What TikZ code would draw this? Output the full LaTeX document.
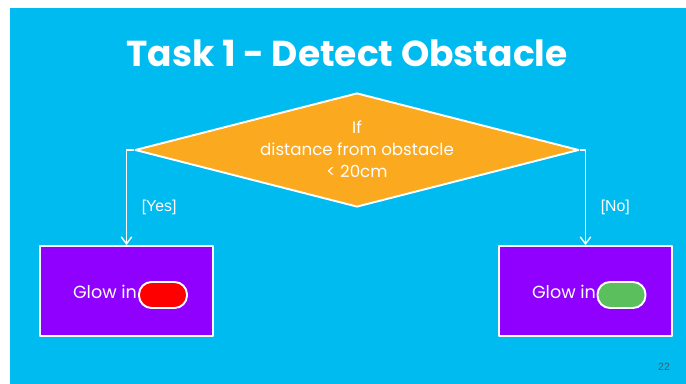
\documentclass[tikz,border=0pt]{standalone}
\usepackage{fontspec}
\setmainfont{Poppins}
\newfontfamily\tagfont{Liberation Sans}
\usetikzlibrary{shapes.geometric,arrows.meta,positioning}
\definecolor{slideblue}{HTML}{00BBF0}
\definecolor{condorange}{HTML}{FBA91E}
\definecolor{boxpurple}{HTML}{8F00FF}
\definecolor{lampred}{HTML}{FF0000}
\definecolor{lampgreen}{HTML}{5CBF5E}
\definecolor{pagegray}{HTML}{555555}

\begin{document}
\begin{tikzpicture}[x=0.02cm,y=-0.02cm,line join=round,
	decision/.style={diamond,draw=white,line width=1.1pt,fill=condorange,
		minimum width=8.88cm,minimum height=2.28cm,inner sep=0pt},
	action/.style={rectangle,draw=white,line width=1.1pt,fill=boxpurple,
		minimum width=3.46cm,minimum height=1.8cm},
	lamp/.style={rectangle,rounded corners=0.25cm,draw=white,line width=1.1pt,
		minimum width=0.96cm,minimum height=0.52cm},
	flow/.style={white,line width=0.8pt,-{Straight Barb[length=4pt,width=6pt]}}]
\useasboundingbox (0,0) rectangle (686,384);
\fill[white] (0,0) rectangle (686,384);
\fill[slideblue] (10,8) rectangle (686,384);
% title
\node[white,font=\fontsize{20.5}{24}\selectfont\bfseries] (title) at (347,53) {Task 1 - Detect Obstacle};
% condition
\node[decision] (cond) at (357,150) {};
\node[white,align=center,font=\fontsize{9.5}{12.5}\selectfont] (condtxt) at (357,149)
	{If\\distance from obstacle\\< 20cm};
% both branches
\foreach \nom/\x/\dir/\col/\ans/\tx/\lx in {stop/126.5/west/lampred/Yes/105/163, go/585.5/east/lampgreen/No/564/621.5}
	{\node[action] (\nom box) at (\x,291) {};
	\node[white,font=\fontsize{10}{12}\selectfont] (\nom txt) at (\tx,292) {Glow in};
	\node[lamp,fill=\col] (\nom lamp) at (\lx,295) {};
	\draw[flow] (cond.\dir) -| (\nom box.north)
		node[pos=0.8,right=5pt,font=\tagfont\fontsize{9}{11}\selectfont] {[\ans]};}
\node[pagegray,font=\tagfont\fontsize{6}{7}\selectfont] (page) at (664,367) {22};
\end{tikzpicture}
\end{document}
